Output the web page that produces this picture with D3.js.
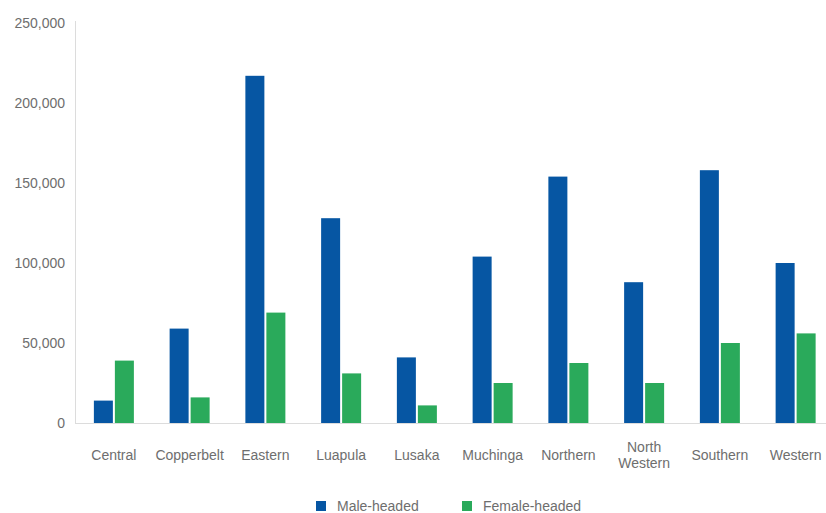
<!DOCTYPE html>
<html>
<head>
<meta charset="utf-8">
<script src="https://cdn.jsdelivr.net/npm/d3@7"></script>
<style>
  html, body { margin: 0; padding: 0; background: #fff; }
  svg { display: block; font-family: "Liberation Sans", Arial, Helvetica, sans-serif; }
</style>
</head>
<body>
<svg id="chart" width="826" height="513"></svg>
<script>
// Households by province and sex of household head
const provinces = ["Central", "Copperbelt", "Eastern", "Luapula", "Lusaka",
                   "Muchinga", "Northern", "North Western", "Southern", "Western"];
const maleHeaded   = [14000, 59000, 217000, 128000, 41000, 104000, 154000, 88000, 158000, 100000];
const femaleHeaded = [39000, 16000, 69000, 31000, 11000, 25000, 37500, 25000, 50000, 56000];
const seriesNames  = ["Male-headed", "Female-headed"];
const seriesColors = ["#0656a3", "#2aaa5b"];
const yTicks = [0, 50000, 100000, 150000, 200000, 250000];

const svg = d3.select("#chart");
const margin = { left: 76, top: 23, bottom: 423 };

const x = d3.scaleBand().domain(provinces).range([margin.left, 833.5]).paddingInner(0).paddingOuter(0);
const y = d3.scaleLinear().domain([0, 250000]).range([margin.bottom, margin.top]);

const barW = 19, barGap = 2;
const sub = d3.scaleOrdinal().domain(seriesNames).range([-barW - barGap / 2, barGap / 2]);

// axis lines
svg.append("line")
  .attr("x1", 75.5).attr("x2", 75.5).attr("y1", y(250000) - 2).attr("y2", y(0))
  .attr("stroke", "#dcdcdc").attr("stroke-width", 1);
svg.append("line")
  .attr("x1", 75).attr("x2", 826).attr("y1", y(0) + 0.5).attr("y2", y(0) + 0.5)
  .attr("stroke", "#dcdcdc").attr("stroke-width", 1);

// y axis labels
const yAxis = d3.axisLeft(y).tickValues(yTicks).tickSize(0).tickPadding(0)
  .tickFormat(d3.format(","));
const yg = svg.append("g").attr("transform", "translate(65,0)").call(yAxis);
yg.select(".domain").remove();
yg.selectAll("text").attr("font-size", 14).attr("fill", "#6e6e6e")
  .attr("font-family", "Liberation Sans, Arial, sans-serif");

// bars
const rows = provinces.map((p, i) => ({ p, vals: [maleHeaded[i], femaleHeaded[i]] }));
const groups = svg.append("g").selectAll("g").data(rows).join("g")
  .attr("transform", d => `translate(${x(d.p) + x.bandwidth() / 2},0)`);
groups.selectAll("rect")
  .data(d => d.vals.map((v, k) => ({ name: seriesNames[k], v, k })))
  .join("rect")
  .attr("x", d => sub(d.name))
  .attr("width", barW)
  .attr("y", d => y(d.v))
  .attr("height", d => y(0) - y(d.v))
  .attr("fill", d => seriesColors[d.k]);

// x axis labels (wrap two-word long names)
const xl = svg.append("g");
provinces.forEach(p => {
  const cx = x(p) + x.bandwidth() / 2;
  const t = xl.append("text").attr("text-anchor", "middle")
    .attr("font-size", 14).attr("fill", "#6e6e6e");
  if (p === "North Western") {
    t.append("tspan").attr("x", cx).attr("y", 452).text("North");
    t.append("tspan").attr("x", cx).attr("y", 468).text("Western");
  } else {
    t.attr("x", cx).attr("y", 460).text(p);
  }
});

// legend
const legend = svg.append("g");
const legX = [316, 462];
seriesNames.forEach((n, k) => {
  legend.append("rect").attr("x", legX[k]).attr("y", 501).attr("width", 10).attr("height", 10)
    .attr("fill", seriesColors[k]);
  legend.append("text").attr("x", legX[k] + 21).attr("y", 511)
    .attr("font-size", 14).attr("fill", "#6e6e6e").text(n);
});
</script>
</body>
</html>
